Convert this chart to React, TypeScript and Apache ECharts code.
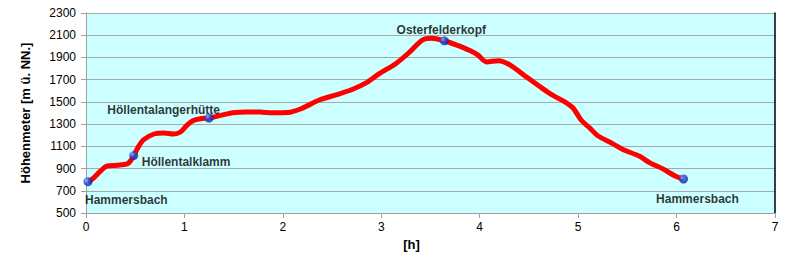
import React, { useEffect, useRef } from "react";
import * as echarts from "echarts";

const hours = [0.02, 0.06, 0.146, 0.21, 0.315, 0.42, 0.45, 0.485, 0.535, 0.586, 0.69, 0.79, 0.89, 0.96, 1.03, 1.09, 1.16, 1.25, 1.4, 1.49, 1.63, 1.77, 1.9, 2.05, 2.2, 2.37, 2.54, 2.71, 2.85, 2.98, 3.15, 3.29, 3.42, 3.51, 3.64, 3.76, 3.9, 3.98, 4.07, 4.19, 4.31, 4.47, 4.64, 4.74, 4.86, 4.95, 5.03, 5.12, 5.2, 5.35, 5.46, 5.625, 5.73, 5.86, 5.99, 6.07];
const elevation = [782, 802, 876, 921, 930, 943, 967, 1017, 1100, 1160, 1211, 1220, 1211, 1229, 1294, 1333, 1349, 1355, 1385, 1402, 1410, 1408, 1402, 1404, 1444, 1517, 1563, 1614, 1673, 1754, 1846, 1950, 2058, 2073, 2050, 2013, 1962, 1923, 1860, 1870, 1831, 1727, 1619, 1560, 1503, 1443, 1337, 1264, 1195, 1124, 1070, 1010, 951, 897, 831, 806];

const placeNames = ["Hammersbach", "Höllentalklamm", "Höllentalangerhütte", "Osterfelderkopf", "Hammersbach"];
const placeHours = [0.02, 0.485, 1.25, 3.64, 6.07];
const placeElevation = [782, 1017, 1355, 2050, 806];

const yTitle = "Höhenmeter [m ü. NN.]";
const xTitle = "[h]";

const labelLayouts = [
  { align: "left", offset: [-3, 18] },
  { align: "left", offset: [8, 6] },
  { align: "right", offset: [11, -8] },
  { align: "center", offset: [-3, -11] },
  { align: "center", offset: [14, 20] },
];

export default function App() {
  const ref = useRef<HTMLDivElement>(null);
  useEffect(() => {
    if (!ref.current) return;
    const chart = echarts.init(ref.current, null, { renderer: "svg" });
    const font = "'Liberation Sans', Arial, sans-serif";
    chart.setOption({
      animation: false,
      textStyle: { fontFamily: font },
      grid: {
        left: 86,
        right: 20,
        top: 13,
        bottom: 52,
        show: true,
        backgroundColor: "#CCFFFF",
        borderWidth: 0,
      },
      xAxis: {
        type: "value",
        min: 0,
        max: 7,
        interval: 1,
        name: xTitle,
        nameLocation: "middle",
        nameGap: 23,
        nameTextStyle: { fontSize: 13, fontWeight: "bold", color: "#000", padding: [0, 38, 0, 0] },
        axisLine: { show: true, lineStyle: { color: "#A0A0A0", width: 1 } },
        axisTick: { show: true, length: 5, lineStyle: { color: "#A0A0A0" } },
        axisLabel: { fontSize: 12, color: "#000", margin: 8, formatter: (v: number) => String(v) },
        splitLine: { show: false },
      },
      yAxis: [
        {
          type: "value",
          min: 500,
          max: 2300,
          interval: 200,
          name: yTitle,
          nameLocation: "middle",
          nameGap: 54,
          nameTextStyle: { fontSize: 13, fontWeight: "bold", color: "#000" },
          axisLine: { show: true, lineStyle: { color: "#A0A0A0", width: 1 } },
          axisTick: { show: true, length: 5, lineStyle: { color: "#A0A0A0" } },
          axisLabel: { fontSize: 12, color: "#000", margin: 10, formatter: (v: number) => String(v) },
          splitLine: { show: true, lineStyle: { color: "#A8A8A8", width: 1 } },
        },
        {
          type: "value",
          min: 500,
          max: 2300,
          position: "right",
          axisLine: { show: true, lineStyle: { color: "#000", width: 1.5 } },
          axisTick: { show: false },
          axisLabel: { show: false },
          splitLine: { show: false },
        },
      ],
      series: [
        {
          type: "line",
          data: hours.map((h, i) => [h, elevation[i]]),
          smooth: 0.3,
          symbol: "none",
          lineStyle: { color: "#FF0000", width: 5 },
          z: 2,
        },
        {
          type: "scatter",
          data: placeHours.map((h, i) => ({
            value: [h, placeElevation[i]],
            label: {
              show: true,
              formatter: placeNames[i],
              position: "inside",
              align: labelLayouts[i].align,
              verticalAlign: "middle",
              offset: labelLayouts[i].offset,
              fontSize: 12,
              fontWeight: "bold",
              color: "#000",
              fontFamily: font,
            },
          })),
          symbol: "circle",
          symbolSize: 9,
          itemStyle: {
            color: new echarts.graphic.RadialGradient(0.35, 0.35, 0.75, [
              { offset: 0, color: "#9FC0FF" },
              { offset: 0.35, color: "#1E55E6" },
              { offset: 1, color: "#001C8A" },
            ]),
          },
          z: 3,
        },
      ],
    });
    return () => chart.dispose();
  }, []);
  return (
    <div
      ref={ref}
      style={{ position: "fixed", left: 0, top: 0, width: 795, height: 265, background: "#fff" }}
    />
  );
}
